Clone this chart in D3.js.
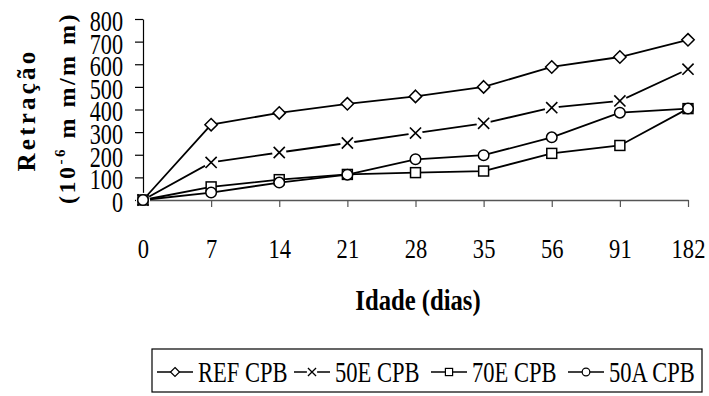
<!DOCTYPE html>
<html><head><meta charset="utf-8">
<script src="https://cdn.jsdelivr.net/npm/d3@7"></script>
<style>body{margin:0;background:#fff} svg{display:block}</style>
</head><body>
<svg id="c" width="709" height="396"></svg>
<script>
const categories = ["0","7","14","21","28","35","56","91","182"];
const seriesNames = ["REF CPB","50E CPB","70E CPB","50A CPB"];
const refCPB = [0,333,385,425,458,500,588,632,708];
const e50CPB = [0,166,210,252,296,339,408,438,578];
const e70CPB = [0,58,90,113,121,128,206,241,404];
const a50CPB = [0,33,77,112,180,198,277,386,404];
const yTicks = [0,100,200,300,400,500,600,700,800];
const markers = ["diamond","cross","square","circle"];

const svg = d3.select("#c");
const FONT = "'Liberation Serif','Times New Roman',serif";

const x = d3.scalePoint().domain(categories).range([143,688]);
const y = d3.scaleLinear().domain([0,800]).range([200,19]);

// y axis
const SY = 0.78;
const ya = svg.append("g").attr("transform","translate(143,0)")
  .call(d3.axisLeft(y).tickValues(yTicks).tickSize(8).tickSizeOuter(0));
ya.select(".domain").attr("stroke","#000").attr("stroke-width",1.2);
ya.selectAll(".tick line").attr("stroke","#000").attr("stroke-width",1.2);
ya.selectAll(".tick text").attr("font-family",FONT).attr("font-size",28.5).attr("fill","#000")
  .attr("x",-20/SY).attr("dy","0.4em").attr("transform",`scale(${SY},1)`);

// x axis
const SXa = 0.82;
const xa = svg.append("g").attr("transform","translate(0,200)")
  .call(d3.axisBottom(x).tickSize(7).tickSizeOuter(0));
xa.select(".domain").attr("stroke","#555").attr("stroke-width",1.5);
xa.selectAll(".tick line").attr("stroke","#555").attr("stroke-width",1.2);
xa.selectAll(".tick text").attr("font-family",FONT).attr("font-size",27.5).attr("fill","#000")
  .attr("y",58).attr("dy",null).attr("transform",`scale(${SXa},1)`);

// x title
svg.append("text").attr("transform","translate(418,310) scale(0.85,1)")
  .attr("text-anchor","middle").attr("font-family",FONT).attr("font-weight","bold")
  .attr("font-size",29).text("Idade (dias)");

// y title
svg.append("text").attr("transform","translate(35,110) rotate(-90)")
  .attr("text-anchor","middle").attr("font-family",FONT).attr("font-weight","bold")
  .attr("font-size",25).attr("letter-spacing",3.2).text("Retração");
const yt2 = svg.append("text").attr("transform","translate(75,108) rotate(-90)")
  .attr("text-anchor","middle").attr("font-family",FONT).attr("font-weight","bold")
  .attr("font-size",24).attr("letter-spacing",2.5);
yt2.append("tspan").text("(10");
yt2.append("tspan").attr("font-size",15).attr("dy",-10).text("-6");
yt2.append("tspan").attr("dy",10).text(" m m/m m)");

// series
const series = [refCPB,e50CPB,e70CPB,a50CPB];
const line = d3.line().x((d,i)=>x(categories[i])).y(d=>y(d));

function drawMarker(g,type,cx,cy,s,sw){
  if(type==="diamond"){
    g.append("path").attr("d",`M${cx},${cy-s}L${cx+s},${cy}L${cx},${cy+s}L${cx-s},${cy}Z`)
      .attr("fill","#fff").attr("stroke","#000").attr("stroke-width",sw);
  } else if(type==="square"){
    g.append("rect").attr("x",cx-s*0.8).attr("y",cy-s*0.8).attr("width",s*1.6).attr("height",s*1.6)
      .attr("fill","#fff").attr("stroke","#000").attr("stroke-width",sw);
  } else if(type==="circle"){
    g.append("circle").attr("cx",cx).attr("cy",cy).attr("r",s*0.85)
      .attr("fill","#fff").attr("stroke","#000").attr("stroke-width",sw);
  } else {
    g.append("circle").attr("cx",cx).attr("cy",cy).attr("r",s*1.15).attr("fill","#fff");
    const k=s*0.9;
    g.append("path").attr("d",`M${cx-k},${cy-k}L${cx+k},${cy+k}M${cx-k},${cy+k}L${cx+k},${cy-k}`)
      .attr("stroke","#000").attr("stroke-width",sw+0.1).attr("fill","none");
  }
}

const gl = svg.append("g");
series.forEach((vals)=>{
  gl.append("path").datum(vals).attr("d",line).attr("fill","none").attr("stroke","#000").attr("stroke-width",1.8);
});
series.forEach((vals,si)=>{
  vals.forEach((v,i)=>drawMarker(gl,markers[si],x(categories[i]),y(v),6.2,1.5));
});

// legend
const lg = svg.append("g");
lg.append("rect").attr("x",152).attr("y",349).attr("width",550).attr("height",43)
  .attr("fill","#fff").attr("stroke","#000").attr("stroke-width",1.2);
seriesNames.forEach((n,i)=>{
  const x0 = 157 + i*137;
  lg.append("line").attr("x1",x0).attr("x2",x0+36).attr("y1",372).attr("y2",372)
    .attr("stroke","#000").attr("stroke-width",1.6);
  drawMarker(lg,markers[i],x0+18,372,4.5,1.2);
  lg.append("text").attr("transform",`translate(${x0+41},382) scale(0.79,1)`)
    .attr("font-family",FONT).attr("font-size",28.5).text(n);
});
</script>
</body></html>
